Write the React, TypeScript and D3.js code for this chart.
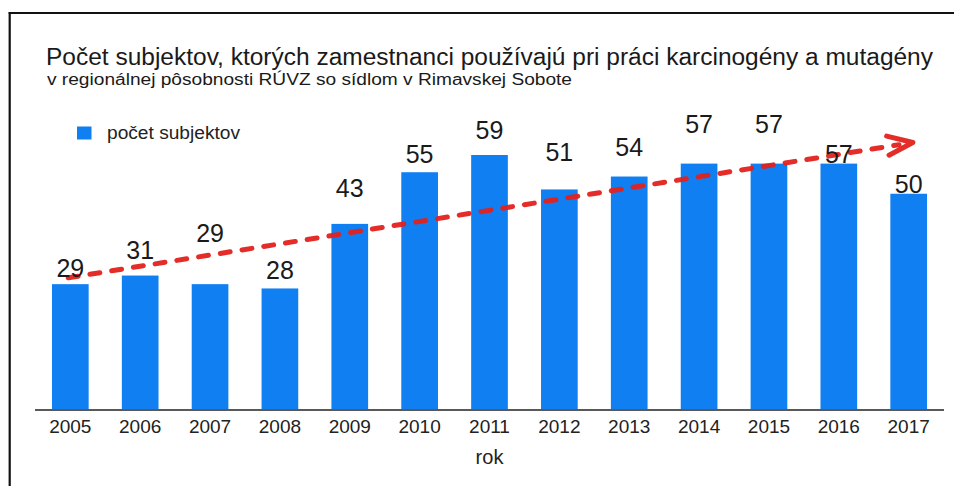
import React from "react";
import * as d3 from "d3";

const years = ["2005","2006","2007","2008","2009","2010","2011","2012","2013","2014","2015","2016","2017"];
const counts = [29, 31, 29, 28, 43, 55, 59, 51, 54, 57, 57, 57, 50];
const titleText = "Počet subjektov, ktorých zamestnanci používajú pri práci karcinogény a mutagény";
const subtitleText = "v regionálnej pôsobnosti RÚVZ so sídlom v Rimavskej Sobote";
const legendLabel = "počet subjektov";
const axisTitle = "rok";

// label lift above each bar top (px), as placed in the reference
const labelLift = [7, 17, 42, 9, 27, 9, 16, 28, 21, 31, 31, 1, 1];

const W = 954, H = 486;
const FONT = "'Liberation Sans', Arial, sans-serif";
const BLUE = "#0f7ff2";
const RED = "#e3211c";

export default function App() {
  const x = d3.scaleBand<string>().domain(years).range([35, 944]).paddingInner(0.475).paddingOuter(0.243);
  const y = d3.scaleLinear().domain([0, 70]).range([409, 107.65]);
  const base = y(0);

  // linear regression trend
  const n = counts.length;
  const mx = d3.mean(d3.range(n)) as number;
  const my = d3.mean(counts) as number;
  let sxy = 0, sxx = 0;
  counts.forEach((v, i) => { sxy += (i - mx) * (v - my); sxx += (i - mx) * (i - mx); });
  const slope = sxy / sxx;
  const icpt = my - slope * mx;
  const step = x.step();
  const cx = (i: number) => (x(years[0]) as number) + x.bandwidth() / 2 + i * step;
  const t0 = -0.03, t1 = 12.06;
  const p0: [number, number] = [cx(t0), y(icpt + slope * t0)];
  const tip: [number, number] = [cx(t1), y(icpt + slope * t1)];
  const ang = Math.atan2(tip[1] - p0[1], tip[0] - p0[0]);
  const back = ang + Math.PI;
  const armLen = 27;
  const a1: [number, number] = [tip[0] + armLen * Math.cos(back + 0.40), tip[1] + armLen * Math.sin(back + 0.40)];
  const a2: [number, number] = [tip[0] + armLen * Math.cos(back - 0.33), tip[1] + armLen * Math.sin(back - 0.33)];
  const lineEnd: [number, number] = [tip[0] - 14 * Math.cos(ang), tip[1] - 14 * Math.sin(ang)];
  const line = d3.line();

  return (
    <svg width={W} height={H} style={{ position: "absolute", left: 0, top: 0, background: "#fff" }} fontFamily={FONT}>
      <rect x={0} y={0} width={W} height={H} fill="#fff" />
      {/* frame */}
      <line x1={8.7} y1={13} x2={W} y2={13} stroke="#111" strokeWidth={2.2} />
      <line x1={9.7} y1={12} x2={9.7} y2={H} stroke="#111" strokeWidth={2.2} />

      {/* title */}
      <text x={46} y={65} fontSize={23.5} fill="#1a1a1a" textLength={887} lengthAdjust="spacingAndGlyphs">{titleText}</text>
      <text x={47} y={85} fontSize={16} fill="#1a1a1a" textLength={525} lengthAdjust="spacingAndGlyphs">{subtitleText}</text>

      {/* legend */}
      <rect x={77} y={126.5} width={14.5} height={13} fill={BLUE} />
      <text x={107} y={139} fontSize={18} fill="#222" textLength={133} lengthAdjust="spacingAndGlyphs">{legendLabel}</text>

      {/* bars */}
      {counts.map((v, i) => (
        <rect key={years[i]} x={x(years[i])} y={y(v)} width={x.bandwidth()} height={base - y(v)} fill={BLUE} />
      ))}

      {/* axis */}
      <line x1={35} x2={944} y1={base + 1} y2={base + 1} stroke="#222" strokeWidth={1.6} />
      {years.map((yr) => (
        <text key={yr} x={(x(yr) as number) + x.bandwidth() / 2} y={433} fontSize={19} textAnchor="middle" fill="#222">{yr}</text>
      ))}
      <text x={489.5} y={464} fontSize={20} textAnchor="middle" fill="#222">{axisTitle}</text>

      {/* trend arrow */}
      <path d={line([p0, lineEnd]) as string} stroke={RED} strokeWidth={5} strokeDasharray="10 12" strokeLinecap="round" fill="none" opacity={0.95} />
      <path d={line([a1, tip, a2]) as string} stroke={RED} strokeWidth={5} strokeLinecap="round" strokeLinejoin="round" fill="none" opacity={0.95} />

      {/* value labels */}
      {counts.map((v, i) => (
        <text key={"l" + years[i]} x={(x(years[i]) as number) + x.bandwidth() / 2} y={y(v) - labelLift[i]} fontSize={25} textAnchor="middle" fill="#1a1a1a">{v}</text>
      ))}
    </svg>
  );
}
